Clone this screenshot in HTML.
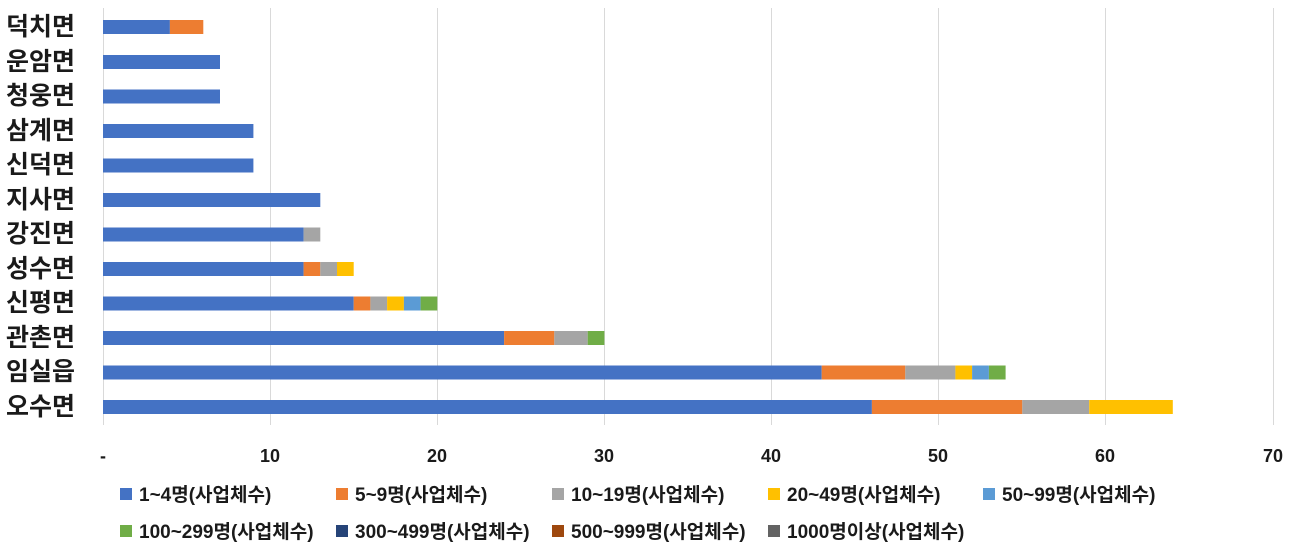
<!DOCTYPE html>
<html><head><meta charset="utf-8"><style>
body{margin:0;background:#fff}
svg text{font-family:"Liberation Sans","Noto Sans CJK KR",sans-serif;fill:#1a1a1a}
</style></head><body>
<svg width="1305" height="555" xmlns="http://www.w3.org/2000/svg">
<g stroke="#d9d9d9" stroke-width="1">
<line x1="103.5" y1="8" x2="103.5" y2="425"/>
<line x1="270.5" y1="8" x2="270.5" y2="425"/>
<line x1="437.5" y1="8" x2="437.5" y2="425"/>
<line x1="604.5" y1="8" x2="604.5" y2="425"/>
<line x1="771.5" y1="8" x2="771.5" y2="425"/>
<line x1="938.5" y1="8" x2="938.5" y2="425"/>
<line x1="1105.5" y1="8" x2="1105.5" y2="425"/>
<line x1="1273.5" y1="8" x2="1273.5" y2="425"/>
</g>
<g transform="translate(0,1)">
<rect x="103" y="19" width="66.9" height="14" fill="#4472c4"/><rect x="169.9" y="19" width="33.4" height="14" fill="#ed7d31"/>
<rect x="103" y="54" width="117" height="14" fill="#4472c4"/>
<rect x="103" y="88.5" width="117" height="14" fill="#4472c4"/>
<rect x="103" y="123" width="150.4" height="14" fill="#4472c4"/>
<rect x="103" y="157.5" width="150.4" height="14" fill="#4472c4"/>
<rect x="103" y="192" width="217.3" height="14" fill="#4472c4"/>
<rect x="103" y="226.5" width="200.6" height="14" fill="#4472c4"/><rect x="303.6" y="226.5" width="16.7" height="14" fill="#a5a5a5"/>
<rect x="103" y="261" width="200.6" height="14" fill="#4472c4"/><rect x="303.6" y="261" width="16.7" height="14" fill="#ed7d31"/><rect x="320.3" y="261" width="16.7" height="14" fill="#a5a5a5"/><rect x="337" y="261" width="16.7" height="14" fill="#ffc000"/>
<rect x="103" y="295.5" width="250.7" height="14" fill="#4472c4"/><rect x="353.7" y="295.5" width="16.7" height="14" fill="#ed7d31"/><rect x="370.4" y="295.5" width="16.7" height="14" fill="#a5a5a5"/><rect x="387.1" y="295.5" width="16.8" height="14" fill="#ffc000"/><rect x="403.9" y="295.5" width="16.7" height="14" fill="#5b9bd5"/><rect x="420.6" y="295.5" width="16.7" height="14" fill="#70ad47"/>
<rect x="103" y="330" width="401.1" height="14" fill="#4472c4"/><rect x="504.1" y="330" width="50.2" height="14" fill="#ed7d31"/><rect x="554.3" y="330" width="33.4" height="14" fill="#a5a5a5"/><rect x="587.7" y="330" width="16.7" height="14" fill="#70ad47"/>
<rect x="103" y="364.5" width="718.7" height="14" fill="#4472c4"/><rect x="821.7" y="364.5" width="83.6" height="14" fill="#ed7d31"/><rect x="905.3" y="364.5" width="50.1" height="14" fill="#a5a5a5"/><rect x="955.4" y="364.5" width="16.7" height="14" fill="#ffc000"/><rect x="972.1" y="364.5" width="16.8" height="14" fill="#5b9bd5"/><rect x="988.9" y="364.5" width="16.7" height="14" fill="#70ad47"/>
<rect x="103" y="399" width="768.9" height="14" fill="#4472c4"/><rect x="871.9" y="399" width="150.4" height="14" fill="#ed7d31"/><rect x="1022.3" y="399" width="66.9" height="14" fill="#a5a5a5"/><rect x="1089.2" y="399" width="83.6" height="14" fill="#ffc000"/>
</g>
<g font-size="25" font-weight="bold" text-anchor="end">
<text x="75" y="35">덕치면</text><text x="75" y="70">운암면</text><text x="75" y="104">청웅면</text>
<text x="75" y="139">삼계면</text><text x="75" y="173">신덕면</text><text x="75" y="208">지사면</text>
<text x="75" y="242">강진면</text><text x="75" y="277">성수면</text><text x="75" y="311">신평면</text>
<text x="75" y="346">관촌면</text><text x="75" y="380">임실읍</text><text x="75" y="415">오수면</text>
</g>
<g font-size="18" font-weight="bold" text-anchor="middle">
<text x="103" y="462">-</text><text x="270" y="462">10</text><text x="437" y="462">20</text>
<text x="604" y="462">30</text><text x="771" y="462">40</text><text x="938" y="462">50</text>
<text x="1105" y="462">60</text><text x="1273" y="462">70</text>
</g>
<g font-size="19" font-weight="bold">
<rect x="120" y="488" width="12" height="12" fill="#4472c4"/><text x="139" y="501">1~4명(사업체수)</text>
<rect x="336" y="488" width="12" height="12" fill="#ed7d31"/><text x="355" y="501">5~9명(사업체수)</text>
<rect x="552" y="488" width="12" height="12" fill="#a5a5a5"/><text x="571" y="501">10~19명(사업체수)</text>
<rect x="768" y="488" width="12" height="12" fill="#ffc000"/><text x="787" y="501">20~49명(사업체수)</text>
<rect x="983" y="488" width="12" height="12" fill="#5b9bd5"/><text x="1002" y="501">50~99명(사업체수)</text>
<rect x="120" y="525" width="12" height="12" fill="#70ad47"/><text x="139" y="538">100~299명(사업체수)</text>
<rect x="336" y="525" width="12" height="12" fill="#264478"/><text x="355" y="538">300~499명(사업체수)</text>
<rect x="552" y="525" width="12" height="12" fill="#9e480e"/><text x="571" y="538">500~999명(사업체수)</text>
<rect x="768" y="525" width="12" height="12" fill="#636363"/><text x="787" y="538">1000명이상(사업체수)</text>
</g>
</svg>
</body></html>
